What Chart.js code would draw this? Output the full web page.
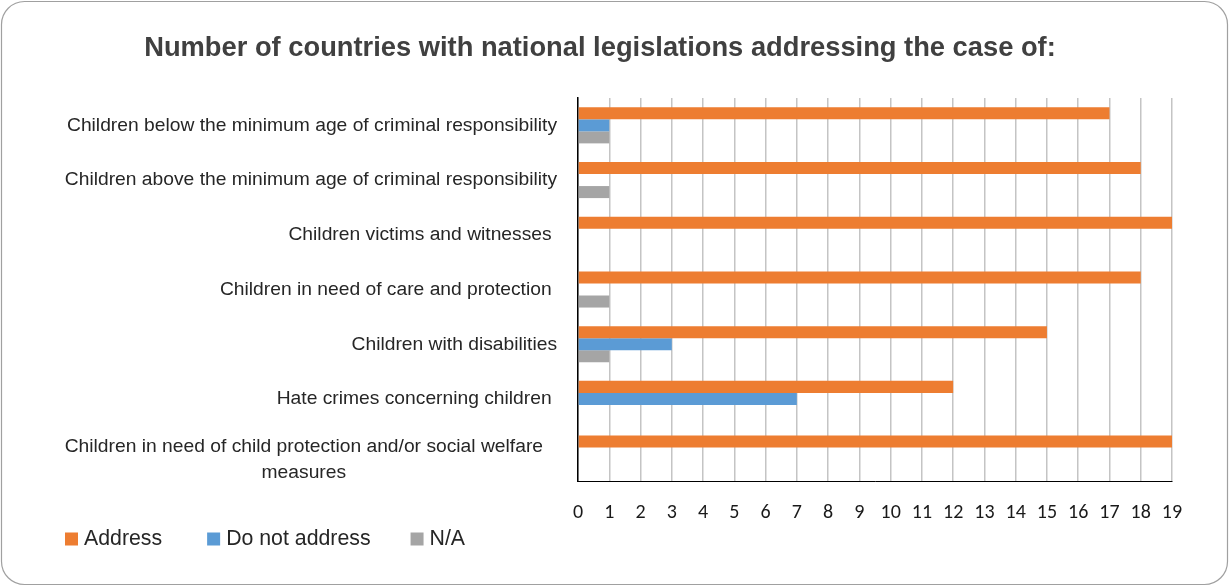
<!DOCTYPE html>
<html>
<head>
<meta charset="utf-8">
<script src="https://cdn.jsdelivr.net/npm/chart.js@4.4.1/dist/chart.umd.min.js"></script>
<style>
html, body { margin: 0; padding: 0; background: #ffffff; }
canvas { display: block; }
</style>
</head>
<body>
<canvas id="c" width="1229" height="586"></canvas>
<script>
// ---- data ----
const categories = [
  ["Children below the minimum age of criminal responsibility"],
  ["Children above the minimum age of criminal responsibility"],
  ["Children victims and witnesses "],
  ["Children in need of care and protection "],
  ["Children with disabilities"],
  ["Hate crimes concerning children "],
  ["Children in need of child protection and/or social welfare", "measures"]
];
const seriesNames = ["Address", "Do not address", "N/A"];
const addressValues      = [17, 18, 19, 18, 15, 12, 19];
const doNotAddressValues = [1, 0, 0, 0, 3, 7, 0];
const naValues           = [1, 1, 0, 1, 1, 0, 0];
const xTickLabels = ["0","1","2","3","4","5","6","7","8","9","10","11","12","13","14","15","16","17","18","19"];
const titleText = "Number of countries with national legislations addressing the case of:";

// ---- styles ----
const SANS = "'Liberation Sans', Arial, sans-serif";
const TICKFONT = "Carlito, Calibri, Lato, sans-serif";
const colors = ["#ED7D31", "#5B9BD5", "#A5A5A5"];

const framePlugin = {
  id: 'frame',
  beforeDraw(chart) {
    const c = chart.ctx;
    c.save();
    c.fillStyle = '#ffffff';
    c.fillRect(0, 0, chart.width, chart.height);
    c.beginPath();
    c.roundRect(1.5, 1.5, chart.width - 3, chart.height - 3, 23);
    c.strokeStyle = '#A0A0A0';
    c.lineWidth = 1.2;
    c.stroke();
    c.restore();
  }
};

const categoryLabelPlugin = {
  id: 'categoryLabels',
  afterDraw(chart) {
    const c = chart.ctx;
    const ys = chart.scales.y;
    const right = chart.chartArea.left - 21;
    c.save();
    c.font = `19.25px ${SANS}`;
    c.fillStyle = '#262626';
    c.textBaseline = 'middle';
    chart.data.labels.forEach((lab, i) => {
      const y = ys.getPixelForTick(i);
      const lines = Array.isArray(lab) ? lab : [lab];
      if (lines.length === 1) {
        c.textAlign = 'right';
        c.fillText(lines[0], right, y);
      } else {
        const lh = 26.5;
        const w = Math.max(...lines.map(l => c.measureText(l).width));
        const cx = right - 14 - w / 2;
        c.textAlign = 'center';
        lines.forEach((l, k) => {
          c.fillText(l, cx, y + (k - (lines.length - 1) / 2) * lh + 6);
        });
      }
    });
    c.restore();
  }
};

const legendPlugin = {
  id: 'customLegend',
  afterDraw(chart) {
    const c = chart.ctx;
    c.save();
    c.font = `21.3px ${SANS}`;
    c.textBaseline = 'middle';
    c.textAlign = 'left';
    let x = 65;
    const y = 539;
    const box = 13;
    const gaps = [45, 40, 40];
    chart.data.datasets.forEach((ds, i) => {
      c.fillStyle = ds.backgroundColor;
      c.fillRect(x, y - box / 2, box, box);
      c.fillStyle = '#262626';
      c.fillText(ds.label, x + box + 6, y);
      x += box + 6 + c.measureText(ds.label).width + gaps[i];
    });
    c.restore();
  }
};

new Chart(document.getElementById('c'), {
  type: 'bar',
  data: {
    labels: categories,
    datasets: [
      { label: seriesNames[0], data: addressValues, backgroundColor: colors[0] },
      { label: seriesNames[1], data: doNotAddressValues, backgroundColor: colors[1] },
      { label: seriesNames[2], data: naValues, backgroundColor: colors[2] }
    ]
  },
  options: {
    indexAxis: 'y',
    responsive: false,
    animation: false,
    devicePixelRatio: 1,
    categoryPercentage: 0.66,
    barPercentage: 1.0,
    layout: { padding: { left: 28, right: 57, top: 0, bottom: 41 } },
    plugins: {
      legend: { display: false },
      tooltip: { enabled: false },
      title: {
        display: true,
        text: titleText,
        color: '#404040',
        font: { family: SANS, size: 27.3, weight: 'bold' },
        padding: { top: 32.5, bottom: 32.7 }
      }
    },
    scales: {
      x: {
        min: 0,
        max: 19,
        ticks: {
          stepSize: 1,
          autoSkip: false,
          maxRotation: 0,
          padding: 20,
          color: '#1a1a1a',
          font: { family: TICKFONT, size: 20 },
          callback: (v, i) => xTickLabels[i]
        },
        grid: { color: '#C4C4C4', lineWidth: 1.5, drawTicks: false },
        border: { color: '#000000', width: 1 }
      },
      y: {
        ticks: { display: false },
        grid: { display: false, drawTicks: false },
        border: { color: '#000000', width: 1.5 },
        afterFit(scale) { scale.width = 550; }
      }
    }
  },
  plugins: [framePlugin, categoryLabelPlugin, legendPlugin]
});
</script>
</body>
</html>
